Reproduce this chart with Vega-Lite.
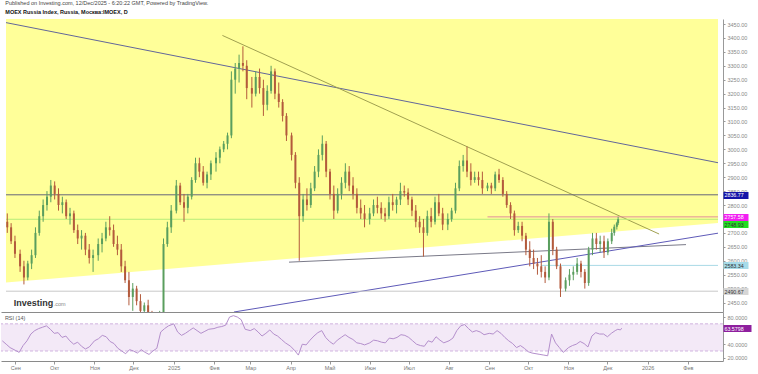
{
  "$schema": "https://vega.github.io/schema/vega-lite/v6.json",
  "padding": {"left": 0, "top": 1, "right": 0, "bottom": 0},
  "background": "white",
  "bounds": "flush",
  "spacing": 0,
  "title": {
    "text": "Published on Investing.com, 12/Dec/2025 - 6:20:22 GMT, Powered by TradingView.",
    "subtitle": "MOEX Russia Index, Russia, Москва:IMOEX, D",
    "anchor": "start", "dx": 5, "offset": 4,
    "font": "Liberation Sans", "fontSize": 5.5, "fontWeight": "normal", "color": "#444",
    "subtitleFont": "Liberation Sans", "subtitleFontSize": 5.5, "subtitleFontWeight": "bold", "subtitleColor": "#111", "subtitlePadding": 3
  },
  "config": {
    "view": {"stroke": null},
    "axis": {"labelFont": "Liberation Sans", "labelFontSize": 5.5, "labelColor": "#888", "domainColor": "#999", "tickColor": "#999", "grid": false, "title": null}
  },
  "datasets": {
    "zone": [{"d": "2024-08-21", "p": 2522}, {"d": "2026-02-28", "p": 2736}],
    "lines": [
      {"id": "a", "d": "2024-08-21", "p": 3455}, {"id": "a", "d": "2026-02-28", "p": 2952},
      {"id": "b", "d": "2025-02-06", "p": 3409}, {"id": "b", "d": "2026-01-13", "p": 2696},
      {"id": "h1", "d": "2024-08-21", "p": 2836.77}, {"id": "h1", "d": "2026-02-28", "p": 2836.77},
      {"id": "pk", "d": "2025-09-01", "p": 2757.58}, {"id": "pk", "d": "2026-02-28", "p": 2757.58},
      {"id": "gr", "d": "2024-08-21", "p": 2748.93}, {"id": "gr", "d": "2026-02-28", "p": 2748.93},
      {"id": "su", "d": "2025-03-30", "p": 2595}, {"id": "su", "d": "2026-02-03", "p": 2658},
      {"id": "bu", "d": "2025-02-15", "p": 2416}, {"id": "bu", "d": "2026-02-28", "p": 2699},
      {"id": "lb", "d": "2025-10-13", "p": 2583.34}, {"id": "lb", "d": "2026-02-28", "p": 2583.34},
      {"id": "lg", "d": "2024-08-21", "p": 2490.67}, {"id": "lg", "d": "2026-02-28", "p": 2490.67}
    ],
    "candles": [
      {"d":"2024-08-22","o":2740,"h":2770,"l":2700,"c":2720},
      {"d":"2024-08-25","o":2720,"h":2735,"l":2660,"c":2670},
      {"d":"2024-08-28","o":2670,"h":2690,"l":2610,"c":2625},
      {"d":"2024-09-01","o":2625,"h":2640,"l":2560,"c":2580},
      {"d":"2024-09-04","o":2580,"h":2600,"l":2515,"c":2540},
      {"d":"2024-09-07","o":2540,"h":2600,"l":2530,"c":2590},
      {"d":"2024-09-10","o":2590,"h":2640,"l":2570,"c":2620},
      {"d":"2024-09-13","o":2620,"h":2720,"l":2610,"c":2700},
      {"d":"2024-09-16","o":2700,"h":2780,"l":2690,"c":2760},
      {"d":"2024-09-19","o":2760,"h":2820,"l":2740,"c":2800},
      {"d":"2024-09-22","o":2800,"h":2850,"l":2780,"c":2830},
      {"d":"2024-09-25","o":2830,"h":2890,"l":2810,"c":2870},
      {"d":"2024-09-28","o":2870,"h":2885,"l":2820,"c":2840},
      {"d":"2024-10-01","o":2840,"h":2860,"l":2780,"c":2800},
      {"d":"2024-10-04","o":2800,"h":2830,"l":2770,"c":2810},
      {"d":"2024-10-07","o":2810,"h":2820,"l":2750,"c":2760},
      {"d":"2024-10-10","o":2760,"h":2790,"l":2730,"c":2770},
      {"d":"2024-10-13","o":2770,"h":2780,"l":2700,"c":2710},
      {"d":"2024-10-16","o":2710,"h":2730,"l":2660,"c":2680},
      {"d":"2024-10-19","o":2680,"h":2710,"l":2640,"c":2690},
      {"d":"2024-10-22","o":2690,"h":2700,"l":2620,"c":2640},
      {"d":"2024-10-25","o":2640,"h":2660,"l":2590,"c":2610},
      {"d":"2024-10-28","o":2610,"h":2640,"l":2560,"c":2620},
      {"d":"2024-11-01","o":2620,"h":2680,"l":2600,"c":2660},
      {"d":"2024-11-04","o":2660,"h":2700,"l":2630,"c":2680},
      {"d":"2024-11-07","o":2680,"h":2740,"l":2670,"c":2720},
      {"d":"2024-11-10","o":2720,"h":2760,"l":2690,"c":2710},
      {"d":"2024-11-13","o":2710,"h":2730,"l":2650,"c":2660},
      {"d":"2024-11-16","o":2660,"h":2690,"l":2620,"c":2640},
      {"d":"2024-11-19","o":2640,"h":2660,"l":2560,"c":2580},
      {"d":"2024-11-22","o":2580,"h":2600,"l":2520,"c":2530},
      {"d":"2024-11-25","o":2530,"h":2560,"l":2440,"c":2470},
      {"d":"2024-11-28","o":2470,"h":2520,"l":2420,"c":2500},
      {"d":"2024-12-01","o":2500,"h":2510,"l":2440,"c":2455},
      {"d":"2024-12-04","o":2455,"h":2480,"l":2400,"c":2420},
      {"d":"2024-12-07","o":2420,"h":2450,"l":2380,"c":2440},
      {"d":"2024-12-10","o":2440,"h":2460,"l":2370,"c":2390},
      {"d":"2024-12-13","o":2390,"h":2420,"l":2340,"c":2360},
      {"d":"2024-12-16","o":2360,"h":2400,"l":2330,"c":2380},
      {"d":"2024-12-19","o":2380,"h":2420,"l":2350,"c":2400},
      {"d":"2024-12-22","o":2410,"h":2680,"l":2400,"c":2660},
      {"d":"2024-12-25","o":2660,"h":2740,"l":2650,"c":2720},
      {"d":"2024-12-28","o":2720,"h":2800,"l":2700,"c":2780},
      {"d":"2025-01-01","o":2780,"h":2890,"l":2770,"c":2870},
      {"d":"2025-01-04","o":2870,"h":2880,"l":2800,"c":2810},
      {"d":"2025-01-07","o":2810,"h":2840,"l":2740,"c":2790},
      {"d":"2025-01-10","o":2790,"h":2840,"l":2770,"c":2830},
      {"d":"2025-01-13","o":2830,"h":2900,"l":2820,"c":2890},
      {"d":"2025-01-16","o":2890,"h":2970,"l":2880,"c":2950},
      {"d":"2025-01-19","o":2950,"h":2970,"l":2900,"c":2920},
      {"d":"2025-01-22","o":2920,"h":2940,"l":2870,"c":2880},
      {"d":"2025-01-25","o":2880,"h":2920,"l":2860,"c":2910},
      {"d":"2025-01-28","o":2910,"h":2960,"l":2890,"c":2950},
      {"d":"2025-02-01","o":2950,"h":2990,"l":2920,"c":2970},
      {"d":"2025-02-04","o":2970,"h":3010,"l":2950,"c":3000},
      {"d":"2025-02-07","o":3000,"h":3030,"l":2990,"c":3020},
      {"d":"2025-02-10","o":3020,"h":3060,"l":3000,"c":3050},
      {"d":"2025-02-13","o":3050,"h":3280,"l":3040,"c":3250},
      {"d":"2025-02-16","o":3250,"h":3310,"l":3200,"c":3290},
      {"d":"2025-02-19","o":3290,"h":3340,"l":3240,"c":3310},
      {"d":"2025-02-22","o":3310,"h":3370,"l":3280,"c":3300},
      {"d":"2025-02-25","o":3300,"h":3320,"l":3180,"c":3220},
      {"d":"2025-03-01","o":3220,"h":3260,"l":3150,"c":3200},
      {"d":"2025-03-04","o":3200,"h":3280,"l":3190,"c":3260},
      {"d":"2025-03-07","o":3260,"h":3290,"l":3200,"c":3220},
      {"d":"2025-03-10","o":3220,"h":3250,"l":3120,"c":3160},
      {"d":"2025-03-13","o":3160,"h":3230,"l":3140,"c":3210},
      {"d":"2025-03-16","o":3210,"h":3300,"l":3200,"c":3280},
      {"d":"2025-03-19","o":3280,"h":3290,"l":3180,"c":3200},
      {"d":"2025-03-22","o":3200,"h":3240,"l":3150,"c":3170},
      {"d":"2025-03-25","o":3170,"h":3180,"l":3100,"c":3120},
      {"d":"2025-03-28","o":3120,"h":3130,"l":3030,"c":3050},
      {"d":"2025-04-01","o":3050,"h":3060,"l":2960,"c":2980},
      {"d":"2025-04-04","o":2980,"h":2990,"l":2860,"c":2880},
      {"d":"2025-04-07","o":2880,"h":2900,"l":2600,"c":2760},
      {"d":"2025-04-10","o":2760,"h":2840,"l":2740,"c":2820},
      {"d":"2025-04-13","o":2820,"h":2860,"l":2780,"c":2800},
      {"d":"2025-04-16","o":2800,"h":2880,"l":2790,"c":2860},
      {"d":"2025-04-19","o":2860,"h":2940,"l":2850,"c":2920},
      {"d":"2025-04-22","o":2920,"h":3000,"l":2900,"c":2980},
      {"d":"2025-04-25","o":2980,"h":3050,"l":2960,"c":3020},
      {"d":"2025-04-28","o":3020,"h":3030,"l":2900,"c":2920},
      {"d":"2025-05-01","o":2920,"h":2930,"l":2820,"c":2840},
      {"d":"2025-05-04","o":2840,"h":2870,"l":2750,"c":2780},
      {"d":"2025-05-07","o":2780,"h":2860,"l":2770,"c":2840},
      {"d":"2025-05-10","o":2840,"h":2900,"l":2820,"c":2880},
      {"d":"2025-05-13","o":2880,"h":2950,"l":2860,"c":2920},
      {"d":"2025-05-16","o":2920,"h":2940,"l":2850,"c":2870},
      {"d":"2025-05-19","o":2870,"h":2900,"l":2820,"c":2840},
      {"d":"2025-05-22","o":2840,"h":2860,"l":2770,"c":2790},
      {"d":"2025-05-25","o":2790,"h":2820,"l":2750,"c":2770},
      {"d":"2025-05-28","o":2770,"h":2800,"l":2720,"c":2750},
      {"d":"2025-06-01","o":2750,"h":2790,"l":2730,"c":2770},
      {"d":"2025-06-04","o":2770,"h":2820,"l":2760,"c":2800},
      {"d":"2025-06-07","o":2800,"h":2830,"l":2770,"c":2790},
      {"d":"2025-06-10","o":2790,"h":2810,"l":2750,"c":2770},
      {"d":"2025-06-13","o":2770,"h":2790,"l":2740,"c":2760},
      {"d":"2025-06-16","o":2760,"h":2830,"l":2750,"c":2810},
      {"d":"2025-06-19","o":2810,"h":2840,"l":2780,"c":2800},
      {"d":"2025-06-22","o":2800,"h":2830,"l":2770,"c":2820},
      {"d":"2025-06-25","o":2820,"h":2880,"l":2800,"c":2850},
      {"d":"2025-06-28","o":2850,"h":2870,"l":2830,"c":2845},
      {"d":"2025-07-01","o":2845,"h":2860,"l":2800,"c":2820},
      {"d":"2025-07-04","o":2820,"h":2830,"l":2760,"c":2780},
      {"d":"2025-07-07","o":2780,"h":2800,"l":2720,"c":2740},
      {"d":"2025-07-10","o":2740,"h":2760,"l":2700,"c":2720},
      {"d":"2025-07-13","o":2720,"h":2750,"l":2615,"c":2700},
      {"d":"2025-07-16","o":2700,"h":2780,"l":2690,"c":2760},
      {"d":"2025-07-19","o":2760,"h":2790,"l":2720,"c":2740},
      {"d":"2025-07-22","o":2740,"h":2830,"l":2730,"c":2810},
      {"d":"2025-07-25","o":2810,"h":2840,"l":2760,"c":2770},
      {"d":"2025-07-28","o":2770,"h":2790,"l":2710,"c":2730},
      {"d":"2025-08-01","o":2730,"h":2770,"l":2710,"c":2750},
      {"d":"2025-08-04","o":2750,"h":2790,"l":2740,"c":2780},
      {"d":"2025-08-07","o":2780,"h":2880,"l":2770,"c":2860},
      {"d":"2025-08-10","o":2860,"h":2960,"l":2850,"c":2940},
      {"d":"2025-08-13","o":2940,"h":2980,"l":2920,"c":2960},
      {"d":"2025-08-16","o":2960,"h":3010,"l":2900,"c":2920},
      {"d":"2025-08-19","o":2920,"h":2950,"l":2870,"c":2890},
      {"d":"2025-08-22","o":2890,"h":2920,"l":2880,"c":2900},
      {"d":"2025-08-25","o":2900,"h":2920,"l":2870,"c":2890},
      {"d":"2025-08-28","o":2890,"h":2920,"l":2840,"c":2860},
      {"d":"2025-09-01","o":2860,"h":2880,"l":2850,"c":2870},
      {"d":"2025-09-04","o":2870,"h":2880,"l":2840,"c":2860},
      {"d":"2025-09-07","o":2860,"h":2920,"l":2850,"c":2910},
      {"d":"2025-09-10","o":2910,"h":2930,"l":2880,"c":2890},
      {"d":"2025-09-13","o":2890,"h":2900,"l":2830,"c":2840},
      {"d":"2025-09-16","o":2840,"h":2850,"l":2790,"c":2800},
      {"d":"2025-09-19","o":2800,"h":2810,"l":2750,"c":2770},
      {"d":"2025-09-22","o":2770,"h":2780,"l":2690,"c":2710},
      {"d":"2025-09-25","o":2710,"h":2740,"l":2700,"c":2725},
      {"d":"2025-09-28","o":2725,"h":2740,"l":2670,"c":2690},
      {"d":"2025-10-01","o":2690,"h":2700,"l":2620,"c":2640},
      {"d":"2025-10-04","o":2640,"h":2670,"l":2580,"c":2610},
      {"d":"2025-10-07","o":2610,"h":2640,"l":2570,"c":2590},
      {"d":"2025-10-10","o":2590,"h":2610,"l":2550,"c":2580},
      {"d":"2025-10-13","o":2580,"h":2620,"l":2540,"c":2560},
      {"d":"2025-10-16","o":2560,"h":2580,"l":2520,"c":2540},
      {"d":"2025-10-19","o":2540,"h":2770,"l":2530,"c":2740},
      {"d":"2025-10-22","o":2740,"h":2750,"l":2620,"c":2640},
      {"d":"2025-10-25","o":2640,"h":2650,"l":2570,"c":2580},
      {"d":"2025-10-28","o":2580,"h":2590,"l":2470,"c":2500},
      {"d":"2025-11-01","o":2500,"h":2540,"l":2490,"c":2530},
      {"d":"2025-11-04","o":2530,"h":2570,"l":2510,"c":2550},
      {"d":"2025-11-07","o":2550,"h":2580,"l":2530,"c":2560},
      {"d":"2025-11-10","o":2560,"h":2610,"l":2550,"c":2590},
      {"d":"2025-11-13","o":2590,"h":2600,"l":2540,"c":2560},
      {"d":"2025-11-16","o":2560,"h":2570,"l":2500,"c":2520},
      {"d":"2025-11-19","o":2520,"h":2650,"l":2510,"c":2640},
      {"d":"2025-11-22","o":2640,"h":2700,"l":2620,"c":2680},
      {"d":"2025-11-25","o":2680,"h":2700,"l":2640,"c":2660},
      {"d":"2025-11-28","o":2660,"h":2690,"l":2630,"c":2670},
      {"d":"2025-12-01","o":2670,"h":2690,"l":2610,"c":2630},
      {"d":"2025-12-04","o":2630,"h":2680,"l":2620,"c":2670},
      {"d":"2025-12-07","o":2670,"h":2715,"l":2660,"c":2700},
      {"d":"2025-12-09","o":2700,"h":2730,"l":2690,"c":2722},
      {"d":"2025-12-11","o":2722,"h":2740,"l":2712,"c":2735},
      {"d":"2025-12-12","o":2735,"h":2757.58,"l":2728,"c":2748.93}
    ],
    "rsi": [
      {"d":"2024-08-22","v":45},{"d":"2024-08-25","v":40},{"d":"2024-08-28","v":35},
      {"d":"2024-09-01","v":31},{"d":"2024-09-04","v":28},{"d":"2024-09-07","v":38},{"d":"2024-09-10","v":45},{"d":"2024-09-13","v":55},{"d":"2024-09-16","v":60},{"d":"2024-09-19","v":63},{"d":"2024-09-22","v":65},{"d":"2024-09-25","v":67},{"d":"2024-09-28","v":62},
      {"d":"2024-10-01","v":56},{"d":"2024-10-04","v":57},{"d":"2024-10-07","v":50},{"d":"2024-10-10","v":52},{"d":"2024-10-13","v":45},{"d":"2024-10-16","v":40},{"d":"2024-10-19","v":43},{"d":"2024-10-22","v":37},{"d":"2024-10-25","v":33},{"d":"2024-10-28","v":36},
      {"d":"2024-11-01","v":45},{"d":"2024-11-04","v":48},{"d":"2024-11-07","v":53},{"d":"2024-11-10","v":51},{"d":"2024-11-13","v":44},{"d":"2024-11-16","v":41},{"d":"2024-11-19","v":34},{"d":"2024-11-22","v":30},{"d":"2024-11-25","v":26},{"d":"2024-11-28","v":32},
      {"d":"2024-12-01","v":30},{"d":"2024-12-04","v":27},{"d":"2024-12-07","v":32},{"d":"2024-12-10","v":28},{"d":"2024-12-13","v":25},{"d":"2024-12-16","v":30},{"d":"2024-12-19","v":34},{"d":"2024-12-22","v":58},{"d":"2024-12-25","v":63},{"d":"2024-12-28","v":67},
      {"d":"2025-01-01","v":70},{"d":"2025-01-04","v":58},{"d":"2025-01-07","v":53},{"d":"2025-01-10","v":56},{"d":"2025-01-13","v":60},{"d":"2025-01-16","v":64},{"d":"2025-01-19","v":60},{"d":"2025-01-22","v":56},{"d":"2025-01-25","v":59},{"d":"2025-01-28","v":62},
      {"d":"2025-02-01","v":63},{"d":"2025-02-04","v":65},{"d":"2025-02-07","v":66},{"d":"2025-02-10","v":68},{"d":"2025-02-13","v":80},{"d":"2025-02-16","v":82},{"d":"2025-02-19","v":80},{"d":"2025-02-22","v":76},{"d":"2025-02-25","v":62},
      {"d":"2025-03-01","v":60},{"d":"2025-03-04","v":63},{"d":"2025-03-07","v":58},{"d":"2025-03-10","v":52},{"d":"2025-03-13","v":56},{"d":"2025-03-16","v":61},{"d":"2025-03-19","v":55},{"d":"2025-03-22","v":52},{"d":"2025-03-25","v":47},{"d":"2025-03-28","v":42},
      {"d":"2025-04-01","v":37},{"d":"2025-04-04","v":31},{"d":"2025-04-07","v":24},{"d":"2025-04-10","v":40},{"d":"2025-04-13","v":39},{"d":"2025-04-16","v":46},{"d":"2025-04-19","v":52},{"d":"2025-04-22","v":57},{"d":"2025-04-25","v":60},{"d":"2025-04-28","v":50},
      {"d":"2025-05-01","v":44},{"d":"2025-05-04","v":40},{"d":"2025-05-07","v":46},{"d":"2025-05-10","v":50},{"d":"2025-05-13","v":54},{"d":"2025-05-16","v":50},{"d":"2025-05-19","v":47},{"d":"2025-05-22","v":42},{"d":"2025-05-25","v":41},{"d":"2025-05-28","v":39},
      {"d":"2025-06-01","v":42},{"d":"2025-06-04","v":46},{"d":"2025-06-07","v":45},{"d":"2025-06-10","v":43},{"d":"2025-06-13","v":42},{"d":"2025-06-16","v":49},{"d":"2025-06-19","v":48},{"d":"2025-06-22","v":50},{"d":"2025-06-25","v":54},{"d":"2025-06-28","v":53},
      {"d":"2025-07-01","v":50},{"d":"2025-07-04","v":45},{"d":"2025-07-07","v":40},{"d":"2025-07-10","v":38},{"d":"2025-07-13","v":37},{"d":"2025-07-16","v":45},{"d":"2025-07-19","v":43},{"d":"2025-07-22","v":51},{"d":"2025-07-25","v":46},{"d":"2025-07-28","v":42},
      {"d":"2025-08-01","v":45},{"d":"2025-08-04","v":49},{"d":"2025-08-07","v":60},{"d":"2025-08-10","v":67},{"d":"2025-08-13","v":69},{"d":"2025-08-16","v":63},{"d":"2025-08-19","v":58},{"d":"2025-08-22","v":60},{"d":"2025-08-25","v":58},{"d":"2025-08-28","v":54},
      {"d":"2025-09-01","v":56},{"d":"2025-09-04","v":55},{"d":"2025-09-07","v":60},{"d":"2025-09-10","v":56},{"d":"2025-09-13","v":50},{"d":"2025-09-16","v":45},{"d":"2025-09-19","v":41},{"d":"2025-09-22","v":35},{"d":"2025-09-25","v":38},{"d":"2025-09-28","v":34},
      {"d":"2025-10-01","v":29},{"d":"2025-10-04","v":27},{"d":"2025-10-07","v":26},{"d":"2025-10-10","v":25},{"d":"2025-10-13","v":24},{"d":"2025-10-16","v":23},{"d":"2025-10-19","v":55},{"d":"2025-10-22","v":42},{"d":"2025-10-25","v":35},{"d":"2025-10-28","v":28},
      {"d":"2025-11-01","v":35},{"d":"2025-11-04","v":38},{"d":"2025-11-07","v":40},{"d":"2025-11-10","v":44},{"d":"2025-11-13","v":41},{"d":"2025-11-16","v":36},{"d":"2025-11-19","v":52},{"d":"2025-11-22","v":57},{"d":"2025-11-25","v":55},{"d":"2025-11-28","v":55},
      {"d":"2025-12-01","v":51},{"d":"2025-12-04","v":56},{"d":"2025-12-07","v":60},{"d":"2025-12-09","v":62},{"d":"2025-12-11","v":61},{"d":"2025-12-12","v":63.58}
    ]
  },
  "vconcat": [
    {
      "width": 722,
      "height": 293,
      "resolve": {"axis": {"y": "independent"}},
      "layer": [
        {
          "data": {"name": "zone"},
          "mark": {"type": "area", "color": "#ffff99", "opacity": 1},
          "encoding": {
            "x": {
              "field": "d", "type": "temporal",
              "scale": {"type": "utc", "nice": false, "domain": [{"year": 2024, "month": 8, "date": 21, "utc": true}, {"year": 2026, "month": 2, "date": 28, "utc": true}]},
              "axis": {"labels": false, "ticks": false, "domain": true, "domainColor": "#8a8a8a"}
            },
            "y": {
              "field": "p", "type": "quantitative",
              "scale": {"domain": [2416, 3468], "nice": false, "zero": false},
              "axis": {
                "orient": "right",
                "values": [2450, 2500, 2550, 2600, 2650, 2700, 2750, 2800, 2850, 2900, 2950, 3000, 3050, 3100, 3150, 3200, 3250, 3300, 3350, 3400, 3450],
                "format": ".2f", "tickSize": 2, "labelPadding": 2, "domainColor": "#999", "labelOverlap": false
              }
            },
            "y2": {"datum": 3468}
          }
        },
        {
          "data": {"name": "lines"},
          "mark": {"type": "line", "strokeWidth": 1, "clip": true},
          "encoding": {
            "x": {"field": "d", "type": "temporal"},
            "y": {
              "field": "p", "type": "quantitative",
              "axis": {
                "orient": "right",
                "values": [2836.77, 2757.58, 2731, 2583.34, 2490.67],
                "domain": false, "tickSize": 25, "tickWidth": 7, "labelPadding": -24, "labelAlign": "left",
                "labelOverlap": false, "labelBound": false, "zindex": 2, "labelFontSize": 5.3,
                "labelExpr": "datum.value == 2731 ? '2748.93' : format(datum.value, '.2f')",
                "tickColor": {
                  "condition": [
                    {"test": "datum.value == 2836.77", "value": "#1414a8"},
                    {"test": "datum.value == 2757.58", "value": "#f21ef2"},
                    {"test": "datum.value == 2731", "value": "#22dd22"},
                    {"test": "datum.value == 2583.34", "value": "#a6dbe9"}
                  ],
                  "value": "#d6d6d6"
                },
                "labelColor": {
                  "condition": [
                    {"test": "datum.value == 2836.77", "value": "#ffffff"},
                    {"test": "datum.value == 2757.58", "value": "#ffffff"}
                  ],
                  "value": "#333333"
                }
              }
            },
            "color": {
              "field": "id", "type": "nominal", "legend": null,
              "scale": {
                "domain": ["a", "b", "h1", "pk", "gr", "su", "bu", "lb", "lg"],
                "range": ["#62669a", "#a0a050", "#66667a", "#e0909a", "#b6ec7a", "#7a7a88", "#5e5ab8", "#a9d9e6", "#c9c9c9"]
              }
            }
          }
        },
        {
          "data": {"name": "candles"},
          "mark": {"type": "rule", "strokeWidth": 1, "clip": true},
          "encoding": {
            "x": {"field": "d", "type": "temporal"},
            "y": {"field": "l", "type": "quantitative", "axis": null},
            "y2": {"field": "h"},
            "color": {"condition": {"test": "datum.c >= datum.o", "value": "#5a9e5e"}, "value": "#b35a3c"}
          }
        },
        {
          "data": {"name": "candles"},
          "mark": {"type": "bar", "width": 2, "clip": true},
          "encoding": {
            "x": {"field": "d", "type": "temporal"},
            "y": {"field": "o", "type": "quantitative", "axis": null},
            "y2": {"field": "c"},
            "color": {"condition": {"test": "datum.c >= datum.o", "value": "#5a9e5e"}, "value": "#b35a3c"}
          }
        },
        {
          "data": {"values": [{}]},
          "mark": {"type": "text", "text": "Investing", "font": "Liberation Sans", "fontSize": 9, "fontWeight": "bold", "color": "#333333", "align": "left", "baseline": "middle"},
          "encoding": {
            "x": {"datum": {"year": 2024, "month": 8, "date": 27, "utc": true}, "type": "temporal"},
            "y": {"datum": 2448, "type": "quantitative", "axis": null}
          }
        },
        {
          "data": {"values": [{}]},
          "mark": {"type": "text", "text": ".com", "font": "Liberation Sans", "fontSize": 5.5, "color": "#888888", "align": "left", "baseline": "middle", "dx": 40, "dy": 1},
          "encoding": {
            "x": {"datum": {"year": 2024, "month": 8, "date": 27, "utc": true}, "type": "temporal"},
            "y": {"datum": 2448, "type": "quantitative", "axis": null}
          }
        }
      ]
    },
    {
      "width": 722,
      "height": 49,
      "resolve": {"axis": {"y": "independent"}},
      "layer": [
        {
          "data": {"values": [{}]},
          "mark": {"type": "rect", "color": "#f3e9f7"},
          "encoding": {
            "x": {
              "datum": {"year": 2024, "month": 8, "date": 21, "utc": true}, "type": "temporal",
              "scale": {"type": "utc", "nice": false, "domain": [{"year": 2024, "month": 8, "date": 21, "utc": true}, {"year": 2026, "month": 2, "date": 28, "utc": true}]},
              "axis": {
                "values": [
                  {"year": 2024, "month": 9, "date": 1, "utc": true},
                  {"year": 2024, "month": 10, "date": 1, "utc": true},
                  {"year": 2024, "month": 11, "date": 1, "utc": true},
                  {"year": 2024, "month": 12, "date": 1, "utc": true},
                  {"year": 2025, "month": 1, "date": 1, "utc": true},
                  {"year": 2025, "month": 2, "date": 1, "utc": true},
                  {"year": 2025, "month": 3, "date": 1, "utc": true},
                  {"year": 2025, "month": 4, "date": 1, "utc": true},
                  {"year": 2025, "month": 5, "date": 1, "utc": true},
                  {"year": 2025, "month": 6, "date": 1, "utc": true},
                  {"year": 2025, "month": 7, "date": 1, "utc": true},
                  {"year": 2025, "month": 8, "date": 1, "utc": true},
                  {"year": 2025, "month": 9, "date": 1, "utc": true},
                  {"year": 2025, "month": 10, "date": 1, "utc": true},
                  {"year": 2025, "month": 11, "date": 1, "utc": true},
                  {"year": 2025, "month": 12, "date": 1, "utc": true},
                  {"year": 2026, "month": 1, "date": 1, "utc": true},
                  {"year": 2026, "month": 2, "date": 1, "utc": true}
                ],
                "labelExpr": "utcmonth(datum.value) == 0 ? utcFormat(datum.value, '%Y') : ['Янв','Фев','Мар','Апр','Май','Июн','Июл','Авг','Сен','Окт','Ноя','Дек'][utcmonth(datum.value)]",
                "tickSize": 3, "labelPadding": 1, "labelOverlap": false, "domainColor": "#8a8a8a", "labelColor": "#777"
              }
            },
            "x2": {"datum": {"year": 2026, "month": 2, "date": 28, "utc": true}},
            "y": {
              "datum": 70, "type": "quantitative",
              "scale": {"domain": [15.3, 87.4], "nice": false, "zero": false},
              "axis": {"orient": "right", "values": [20, 40, 80], "format": ".4f", "tickSize": 2, "labelPadding": 2, "domainColor": "#999", "labelOverlap": false}
            },
            "y2": {"datum": 30}
          }
        },
        {
          "data": {"values": [{"v": 70}, {"v": 30}]},
          "mark": {"type": "rule", "strokeDash": [3, 2], "color": "#c7a3d9", "strokeWidth": 0.8},
          "encoding": {"y": {"field": "v", "type": "quantitative", "axis": null}}
        },
        {
          "data": {"name": "rsi"},
          "mark": {"type": "line", "color": "#b48fcc", "strokeWidth": 1},
          "encoding": {
            "x": {"field": "d", "type": "temporal"},
            "y": {
              "field": "v", "type": "quantitative",
              "axis": {
                "orient": "right", "values": [63.5798], "domain": false, "tickSize": 28, "tickWidth": 7,
                "tickColor": "#8e1f9e", "labelPadding": -27, "labelAlign": "left", "labelColor": "#ffffff",
                "labelFontSize": 5.3, "format": ".4f", "zindex": 2, "labelBound": false
              }
            }
          }
        },
        {
          "data": {"values": [{}]},
          "mark": {"type": "text", "text": "RSI (14)", "font": "Liberation Sans", "fontSize": 5.5, "color": "#555555", "align": "left", "baseline": "middle"},
          "encoding": {
            "x": {"datum": {"year": 2024, "month": 8, "date": 24, "utc": true}, "type": "temporal"},
            "y": {"datum": 78, "type": "quantitative", "axis": null}
          }
        }
      ]
    }
  ]
}
